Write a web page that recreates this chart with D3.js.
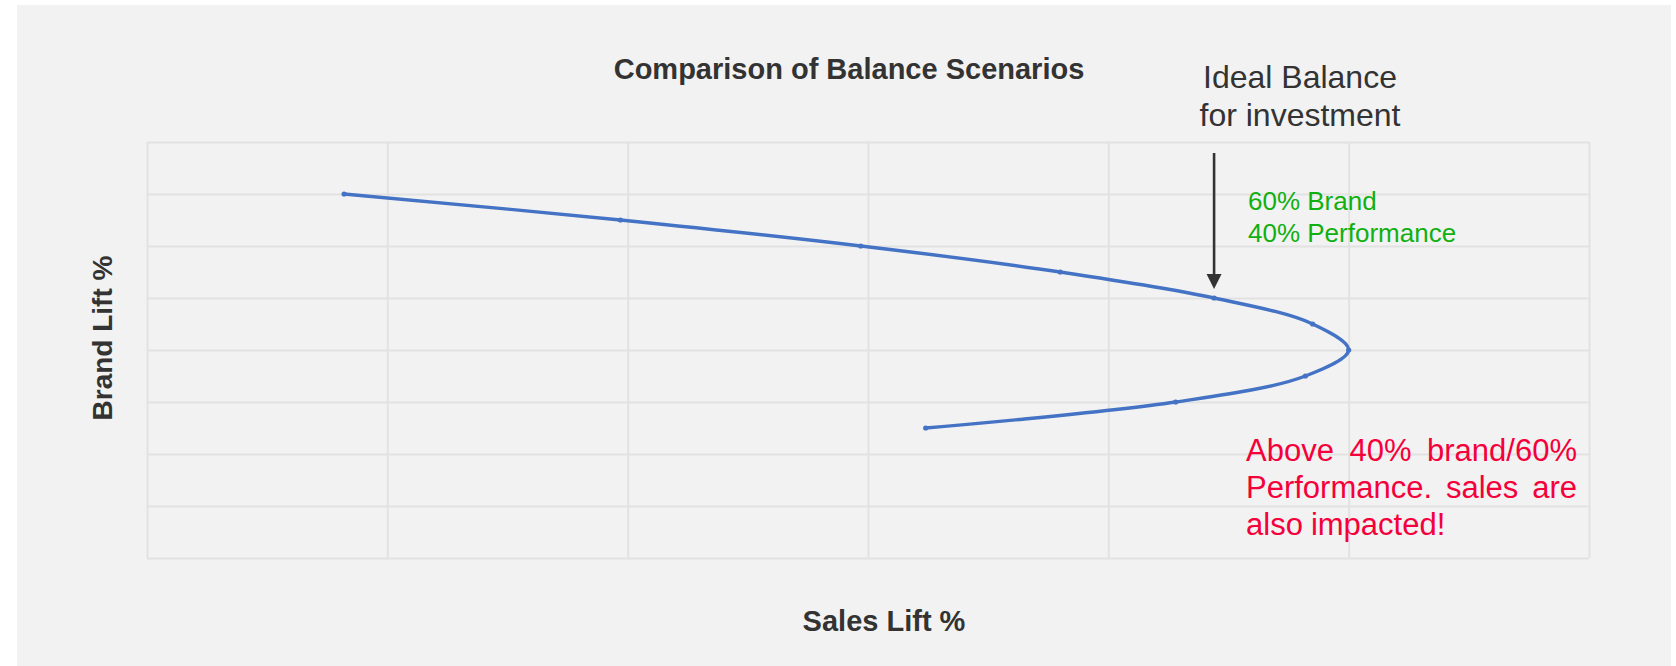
<!DOCTYPE html>
<html>
<head>
<meta charset="utf-8">
<script src="https://cdn.jsdelivr.net/npm/d3@7"></script>
<style>
  body { margin: 0; background: #ffffff; }
  svg text { font-family: "Liberation Sans", Arial, sans-serif; }
</style>
</head>
<body>
<svg id="chart"></svg>
<script>
// values (sales lift %, brand lift %)
var salesLift = [8.2, 19.7, 29.7, 38.0, 44.4, 48.5, 50.0, 48.2, 42.8, 32.4]
var brandLift = [70, 65, 60, 55, 50, 45, 40, 35, 30, 25]
var xTicks = [0, 10, 20, 30, 40, 50, 60]
var yTicks = [0, 10, 20, 30, 40, 50, 60, 70, 80]
var idealIndex = 4

var svg = d3.select('#chart')
    .attr('width', 1676)
    .attr('height', 666)

svg.append('rect')
    .attr('x', 17)
    .attr('y', 5)
    .attr('width', 1654)
    .attr('height', 661)
    .attr('fill', '#f2f2f2')

var x = d3.scaleLinear().domain([0, 60]).range([147, 1589])
var y = d3.scaleLinear().domain([0, 80]).range([558, 142])

// grid
svg.append('g')
    .attr('transform', 'translate(0,558)')
    .call(d3.axisBottom(x).tickValues(xTicks).tickSize(-416).tickFormat(''))
    .call(function(g){
        g.select('.domain').remove()
        g.selectAll('line').attr('stroke', '#e2e2e2').attr('stroke-width', 2)
    })

svg.append('g')
    .attr('transform', 'translate(147,0)')
    .call(d3.axisLeft(y).tickValues(yTicks).tickSize(-1442).tickFormat(''))
    .call(function(g){
        g.select('.domain').remove()
        g.selectAll('line').attr('stroke', '#e2e2e2').attr('stroke-width', 2)
    })

var points = salesLift.map(function(d, i){ return [d, brandLift[i]] })

var line = d3.line()
    .x(function(d){ return x(d[0]) })
    .y(function(d){ return y(d[1]) })
    .curve(d3.curveCatmullRom.alpha(0.5))

svg.append('path')
    .datum(points)
    .attr('d', line)
    .attr('fill', 'none')
    .attr('stroke', '#4472c4')
    .attr('stroke-width', 3.4)

svg.selectAll('circle.pt')
    .data(points)
    .enter()
    .append('circle')
    .attr('class', 'pt')
    .attr('cx', function(d){ return x(d[0]) })
    .attr('cy', function(d){ return y(d[1]) })
    .attr('r', 2.6)
    .attr('fill', '#4472c4')

// arrow to the ideal point
var ax = x(salesLift[idealIndex])
var tipY = y(brandLift[idealIndex]) - 9
svg.append('line')
    .attr('x1', ax).attr('y1', 153)
    .attr('x2', ax).attr('y2', tipY - 12)
    .attr('stroke', '#333333')
    .attr('stroke-width', 2.6)
svg.append('path')
    .attr('d', 'M' + (ax - 7.5) + ',' + (tipY - 15) + 'L' + (ax + 7.5) + ',' + (tipY - 15) + 'L' + ax + ',' + tipY + 'Z')
    .attr('fill', '#333333')

// titles
svg.append('text')
    .attr('x', 849).attr('y', 79)
    .attr('text-anchor', 'middle')
    .attr('font-size', 29)
    .attr('font-weight', 'bold')
    .attr('fill', '#333333')
    .text('Comparison of Balance Scenarios')

svg.append('text')
    .attr('x', 884).attr('y', 631)
    .attr('text-anchor', 'middle')
    .attr('font-size', 29)
    .attr('font-weight', 'bold')
    .attr('fill', '#333333')
    .text('Sales Lift %')

svg.append('text')
    .attr('transform', 'translate(112,338) rotate(-90)')
    .attr('text-anchor', 'middle')
    .attr('font-size', 28)
    .attr('font-weight', 'bold')
    .attr('fill', '#333333')
    .text('Brand Lift %')

// annotations
var ideal = ['Ideal Balance', 'for investment']
svg.selectAll('text.ideal')
    .data(ideal)
    .enter()
    .append('text')
    .attr('class', 'ideal')
    .attr('x', 1300)
    .attr('y', function(d, i){ return 88 + i * 38 })
    .attr('text-anchor', 'middle')
    .attr('font-size', 32)
    .attr('fill', '#333333')
    .text(function(d){ return d })

var green = ['60% Brand', '40% Performance']
svg.selectAll('text.green')
    .data(green)
    .enter()
    .append('text')
    .attr('class', 'green')
    .attr('x', 1248)
    .attr('y', function(d, i){ return 210 + i * 31.5 })
    .attr('font-size', 26)
    .attr('fill', '#10b010')
    .text(function(d){ return d })

// red note, justified lines except last
var red = ['Above 40% brand/60%', 'Performance. sales are', 'also impacted!']
var left = 1246, right = 1577
red.forEach(function(str, i){
    var words = str.split(' ')
    var t = svg.append('text')
        .attr('y', 461 + i * 37)
        .attr('font-size', 31)
        .attr('fill', '#f5003a')
    var spans = words.map(function(w){ return t.append('tspan').text(w) })
    var widths = spans.map(function(s){ return s.node().getComputedTextLength() })
    var total = d3.sum(widths)
    var gap = (i < red.length - 1 && words.length > 1) ? (right - left - total) / (words.length - 1) : 8
    var cx = left
    spans.forEach(function(s, j){
        s.attr('x', cx)
        cx += widths[j] + gap
    })
})
</script>
</body>
</html>
